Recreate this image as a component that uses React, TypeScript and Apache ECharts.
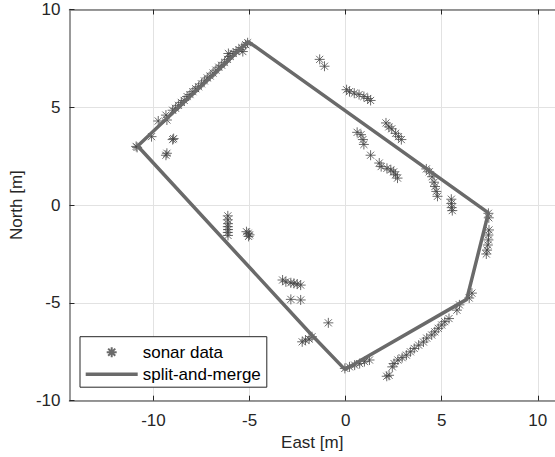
import React, { useEffect, useRef } from "react";
import * as echarts from "echarts";

// sonar returns (East, North) in metres
const sonarEast = [
  -10.9, -10.85, -10.1, -9.75, -9.35, -9.3, -9.0, -8.85, -8.7, -8.55, -8.4, -8.25, -8.1, -7.95, -7.8,
  -7.65, -7.5, -7.35, -7.2, -7.05, -6.9, -6.75, -6.6, -6.45, -6.3, -6.15, -6.1, -6.0, -5.85, -5.7,
  -5.55, -5.35, -5.4, -5.2, -5.1,
  -9.0, -8.95, -9.3, -9.35,
  -1.35, -1.1,
  0.05, 0.2, 0.45, 0.7, 0.95, 1.15, 1.3,
  2.1, 2.25, 2.4, 2.6, 2.75, 2.9,
  0.6, 0.8, 0.9, 0.95, 1.3,
  1.75, 1.85, 2.15, 2.35, 2.5, 2.6, 2.7,
  4.2, 4.35, 4.5, 4.6, 4.65, 4.72, 4.78,
  5.5, 5.5, 5.52, 5.55,
  7.43, 7.45, 7.46, 7.43, 7.43, 7.4, 7.36, 7.32,
  6.57, 6.43, 5.92, 5.79, 5.38, 5.16, 5.0, 4.82, 4.64, 4.48, 4.22, 4.05, 3.8, 3.57, 3.37, 3.16, 2.94,
  2.72, 2.52, 2.43, 2.26, 2.14,
  -0.04, 0.2, 0.47, 0.73, 0.98, 1.24,
  -6.13, -6.13, -6.12, -6.13, -6.12, -6.13, -6.12,
  -5.16, -5.07, -5.05, -5.0,
  -3.28, -3.11, -2.85, -2.69, -2.52, -2.34,
  -2.85, -2.34, -0.9,
  -2.26, -2.09, -1.75, -1.9,
];
const sonarNorth = [
  3.0, 2.95, 3.5, 4.3, 4.6, 4.35, 4.85, 4.95, 5.1, 5.25, 5.35, 5.55, 5.65, 5.8, 5.95,
  6.05, 6.2, 6.35, 6.5, 6.6, 6.75, 6.9, 7.05, 7.15, 7.3, 7.45, 7.75, 7.6, 7.75, 7.85,
  7.95, 7.85, 8.05, 8.2, 8.3,
  3.35, 3.4, 2.65, 2.55,
  7.45, 7.1,
  5.9, 5.8, 5.72, 5.65, 5.55, 5.45, 5.35,
  4.2, 4.0, 3.9, 3.67, 3.5, 3.35,
  3.72, 3.6, 3.35, 3.1, 2.55,
  2.15, 1.97, 1.88, 1.8, 1.7, 1.55, 1.38,
  1.85, 1.7, 1.45, 1.17, 0.95, 0.7, 0.45,
  0.3, 0.08, -0.13, -0.28,
  -0.42, -0.65, -1.27, -1.53, -1.78, -2.04, -2.3, -2.5,
  -4.5, -4.75, -5.1, -5.37, -5.8, -5.96, -6.13, -6.3, -6.48, -6.64, -6.8, -7.0, -7.16, -7.33, -7.5, -7.67, -7.8,
  -7.92, -8.1, -8.27, -8.7, -8.75,
  -8.35, -8.27, -8.18, -8.1, -8.0, -7.92,
  -0.55, -0.75, -0.95, -1.1, -1.25, -1.4, -1.55,
  -1.36, -1.44, -1.6, -1.52,
  -3.83, -3.92, -3.97, -4.0, -4.04, -4.09,
  -4.82, -4.85, -6.02,
  -6.99, -6.9, -6.73, -6.85,
];

// split-and-merge polygon vertices
const mergeEast = [-10.82, -5.07, 7.43, 6.3, -0.04, -1.8, -10.82];
const mergeNorth = [3.02, 8.36, -0.4, -4.82, -8.4, -6.6, 3.02];

const xTicks = [-10, -5, 0, 5, 10];
const seriesNames = ["sonar data", "split-and-merge"];

const STAR = "path://M5,0L5,10M0,5L10,5M1.46,1.46L8.54,8.54M1.46,8.54L8.54,1.46";
const LINE_ICON = "path://M0,0L52,0L52,3.5L0,3.5Z";
const FONT = "'Liberation Sans', Arial, Helvetica, sans-serif";

export default function App() {
  const ref = useRef<HTMLDivElement>(null);
  useEffect(() => {
    const chart = echarts.init(ref.current!, null, { renderer: "svg" });
    const sonar = sonarEast.map((e, i) => [e, sonarNorth[i]]);
    const merge = mergeEast.map((e, i) => [e, mergeNorth[i]]);
    const axisLine = { show: true, onZero: false, lineStyle: { color: "#777777", width: 1.5 } };
    const tick = { show: true, inside: true, length: 5, lineStyle: { color: "#262626", width: 1 } };
    chart.setOption({
      animation: false,
      backgroundColor: "#ffffff",
      textStyle: { fontFamily: FONT },
      grid: { left: 66.5, right: -5.5, top: 9.5, bottom: 56.3, containLabel: false },
      legend: {
        orient: "vertical",
        left: 80,
        top: 336.7,
        padding: [7, 6, 4.5, 5.7],
        itemGap: 5,
        itemWidth: 52,
        itemHeight: 10,
        backgroundColor: "#ffffff",
        borderColor: "#262626",
        borderWidth: 1,
        borderRadius: 0,
        textStyle: { fontSize: 17, color: "#000000", fontFamily: FONT },
        data: [
          { name: seriesNames[0] },
          { name: seriesNames[1], icon: LINE_ICON, itemStyle: { color: "#6a6a6a" } },
        ],
      },
      xAxis: [
        {
          type: "value",
          min: -14.37,
          max: 10.895,
          name: "East [m]",
          nameLocation: "middle",
          nameGap: 33,
          nameTextStyle: { fontSize: 17, color: "#262626", fontFamily: FONT },
          axisLine,
          axisTick: { ...tick, customValues: xTicks },
          axisLabel: {
            customValues: xTicks,
            fontSize: 17,
            color: "#262626",
            margin: 11,
            fontFamily: FONT,
          },
          splitLine: { show: true, lineStyle: { color: "#e2e2e2", width: 1 } },
        },
        {
          type: "value",
          position: "top",
          min: -14.37,
          max: 10.895,
          axisLine,
          axisTick: { ...tick, customValues: xTicks },
          axisLabel: { show: false },
          splitLine: { show: false },
        },
      ],
      yAxis: {
        type: "value",
        min: -10,
        max: 10,
        interval: 5,
        name: "North [m]",
        nameLocation: "middle",
        nameGap: 42,
        nameTextStyle: { fontSize: 17, color: "#262626", fontFamily: FONT },
        axisLine,
        axisTick: tick,
        axisLabel: { fontSize: 17, color: "#262626", margin: 9, fontFamily: FONT },
        splitLine: { show: true, lineStyle: { color: "#e2e2e2", width: 1 } },
      },
      series: [
        {
          name: seriesNames[0],
          type: "scatter",
          xAxisIndex: 0,
          symbol: STAR,
          symbolSize: 10,
          itemStyle: { color: "rgba(0,0,0,0)", borderColor: "#454545", borderWidth: 1 },
          data: sonar,
        },
        {
          name: seriesNames[1],
          type: "line",
          xAxisIndex: 0,
          symbol: "none",
          showSymbol: false,
          lineStyle: { color: "#6a6a6a", width: 3.5 },
          itemStyle: { color: "#6a6a6a" },
          data: merge,
        },
      ],
    });
    return () => chart.dispose();
  }, []);
  return (
    <div
      ref={ref}
      style={{ position: "absolute", left: 0, top: 0, width: 555, height: 457, overflow: "hidden" }}
    />
  );
}
